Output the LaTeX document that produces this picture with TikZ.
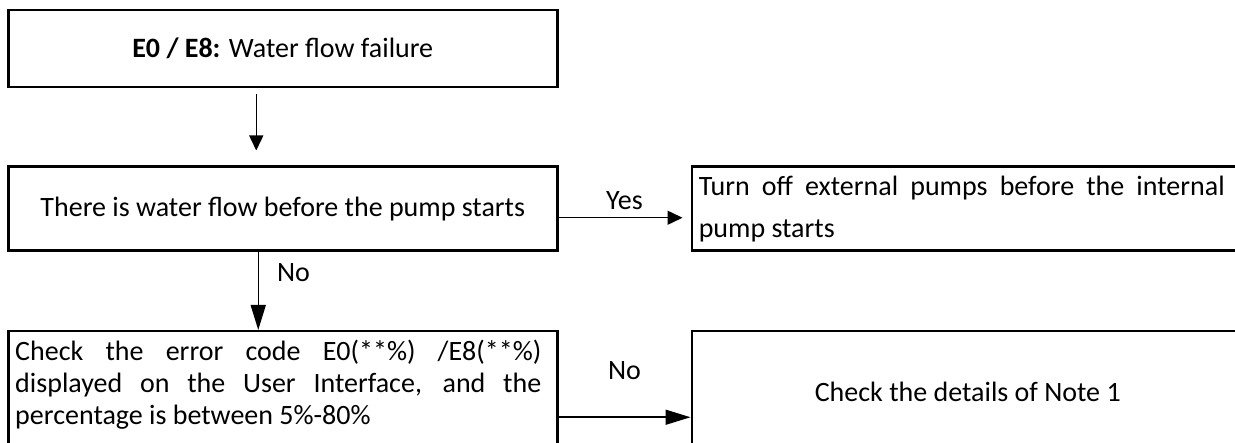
\documentclass[tikz,border=0pt]{standalone}
\usepackage{fontspec}
\setmainfont{Carlito}
\usetikzlibrary{positioning,arrows.meta}

\begin{document}
\begin{tikzpicture}[
  x=1pt, y=-1pt,
  font=\fontsize{28}{38}\selectfont,
  box/.style={rectangle, draw=black, line width=2.5pt, inner sep=0pt, align=center},
  link/.style={-{Triangle[length=15pt,width=14pt]}, line width=1.5pt},
  nolink/.style={-{Triangle[length=25pt,width=15pt]}, line width=1.5pt},
  lbl/.style={inner sep=1pt}
]
\useasboundingbox (0,0) rectangle (1235,443);
\node[box, minimum width=549pt, minimum height=77pt, anchor=north west] (fail) at (7,9) {\textbf{E0 / E8:} Water flow failure};
\node[box, minimum width=549pt, minimum height=84pt, below=77pt of fail.south west, anchor=north west] (flow) {There is water flow before the pump starts};
\node[box, minimum height=84pt, inner xsep=7pt, text width=545pt, align=justify, right=132pt of flow.north east, anchor=north west] (ext)
  {\parbox{526pt}{\fontsize{28}{42}\selectfont Turn off external pumps before the internal\linebreak pump starts}};
\node[box, minimum height=122pt, inner xsep=7pt, text width=535pt, align=justify, below=78pt of flow.south west, anchor=north west] (chk)
  {\parbox{526pt}{\fontsize{28}{32}\selectfont Check the error code E0(**\%) /E8(**\%)\linebreak displayed on the User Interface, and the\linebreak percentage is between 5\%-80\%\par\vspace*{16pt}}};
\node[box, minimum width=552pt, minimum height=122pt, right=132pt of chk.north east, anchor=north west] (note) {Check the details of Note 1};
% connectors
\draw[link] ([xshift=-26.5pt,yshift=-6pt]fail.south) -- ([xshift=-26.5pt,yshift=15pt]flow.north);
\draw[nolink] ([xshift=-24.5pt]flow.south) -- node[lbl, right=17pt, pos=0.26]{No} ([xshift=-24.5pt]chk.north);
\draw[link, shorten >=8pt] ([yshift=-9pt]flow.east) -- node[lbl, above=6pt]{Yes} ([yshift=-9pt]flow.east -| ext.west);
\draw[nolink] ([yshift=-25pt]chk.east) -- node[lbl, above=36pt]{No} ([yshift=-25pt]chk.east -| note.west);
\end{tikzpicture}
\end{document}
